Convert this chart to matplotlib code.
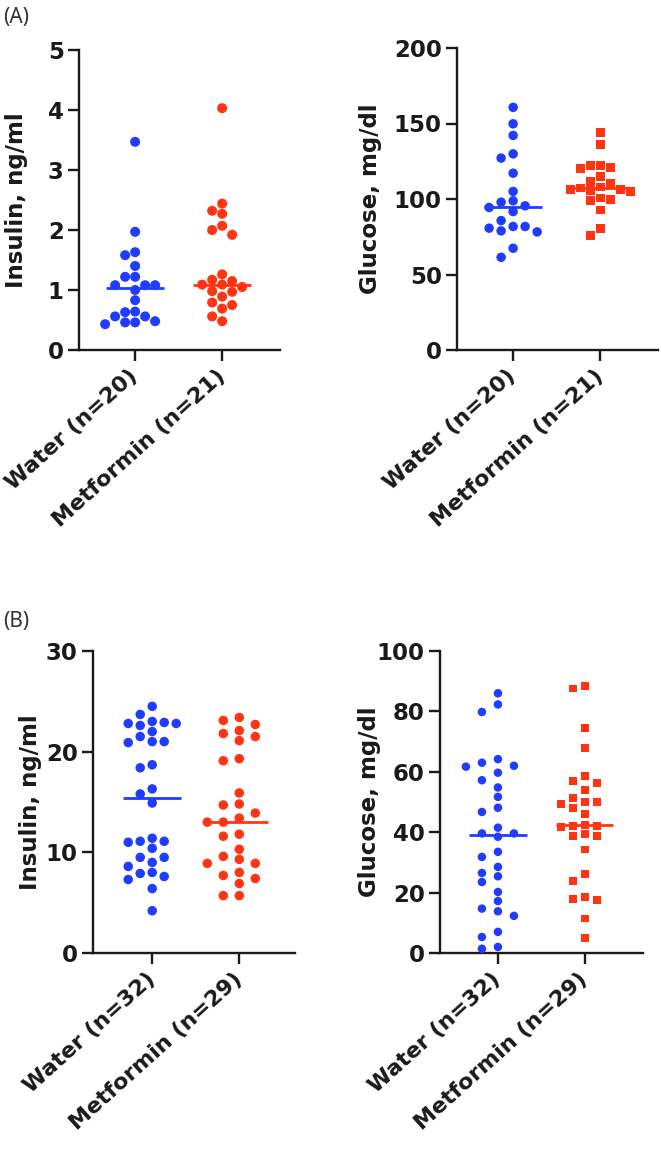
import matplotlib
matplotlib.use("Agg")
import matplotlib.pyplot as plt
import numpy as np

plt.rcParams['font.family'] = ['DejaVu Sans']

# ---------------- data ----------------
groups_a = ["Water (n=20)", "Metformin (n=21)"]
groups_b = ["Water (n=32)", "Metformin (n=29)"]

a_ins_water = [3.47, 1.97, 1.63, 1.58, 1.40, 1.22, 1.22, 1.08, 1.08, 1.08, 1.00,
               0.83, 0.64, 0.63, 0.56, 0.56, 0.48, 0.46, 0.46, 0.43]
a_ins_met = [4.03, 2.44, 2.32, 2.27, 2.07, 2.00, 1.92, 1.26, 1.17, 1.15, 1.09,
             1.09, 1.05, 0.98, 0.97, 0.89, 0.79, 0.75, 0.69, 0.56, 0.48]

a_glu_water = [160.7, 149.8, 142.1, 129.9, 127.1, 117.1, 105.0, 98.8, 97.9, 95.5,
               94.4, 91.7, 85.7, 81.8, 81.8, 80.7, 78.9, 78.2, 67.4, 61.4]
a_glu_met = [144.1, 135.9, 122.0, 122.0, 121.1, 120.2, 114.9, 111.6, 110.5, 108.0,
             107.2, 106.1, 106.1, 105.4, 105.0, 100.6, 99.5, 99.0, 92.8, 80.7, 75.6]

b_ins_water = [24.5, 23.7, 23.0, 22.9, 22.8, 22.8, 22.6, 22.0, 21.5, 21.0, 21.0,
               20.9, 18.7, 18.4, 16.3, 15.8, 14.9, 11.4, 11.1, 11.1, 11.0, 10.4,
               9.5, 9.5, 9.0, 8.6, 8.0, 7.9, 7.6, 7.3, 6.4, 4.2]
b_ins_met = [23.4, 23.1, 22.7, 22.1, 21.8, 21.5, 21.1, 19.3, 19.1, 15.9, 14.8,
             14.7, 13.9, 13.4, 13.0, 13.0, 11.8, 11.6, 10.3, 9.6, 9.3, 8.9, 8.9,
             8.0, 7.7, 7.4, 6.9, 5.7, 5.7]

b_glu_water = [86.0, 82.3, 79.8, 64.2, 63.0, 62.0, 61.7, 59.7, 57.2, 54.8, 51.7,
               48.1, 46.7, 41.5, 39.6, 39.6, 38.5, 33.5, 31.8, 28.5, 26.5, 25.4,
               23.5, 20.2, 17.2, 14.7, 13.8, 12.3, 7.0, 5.3, 2.0, 1.4]
b_glu_met = [88.4, 87.6, 74.4, 68.0, 58.7, 56.9, 56.3, 53.9, 51.2, 49.9, 49.9,
             49.3, 47.9, 46.0, 42.3, 42.0, 42.0, 41.8, 39.3, 38.7, 38.7, 34.3,
             26.1, 23.8, 18.6, 18.0, 17.5, 11.4, 5.0]

BLUE = "#1f3cff"
RED = "#ff3412"
INK = "#1a1a1a"

W, H = 661, 1162
fig = plt.figure(figsize=(W / 100, H / 100), dpi=100)


def add_ax(left, top, right, bottom):
    return fig.add_axes([left / W, 1 - bottom / H, (right - left) / W, (bottom - top) / H])


def swarm_x(ax, xc, vals, diam_px, step_px):
    vals = np.asarray(vals, float)
    ypx = ax.transData.transform(np.column_stack([np.full(len(vals), xc), vals]))[:, 1]
    cands = sorted([k * step_px / 2 for k in range(-14, 15)], key=lambda o: (abs(o), o))
    placed = []
    offs = np.zeros(len(vals))
    for i in np.argsort(-vals):
        y = ypx[i]
        chosen = 0.0
        for o in cands:
            if all(abs(o - px) >= step_px * 0.99 or abs(y - py) >= diam_px * 0.98
                   for px, py in placed):
                chosen = o
                break
        placed.append((chosen, y))
        offs[i] = chosen
    x0 = ax.transData.transform((xc, 0))[0]
    return ax.transData.inverted().transform(np.column_stack([x0 + offs, ypx]))[:, 0]


def panel(ax, water, met, labels, ylim, yticks, ylabel, xlim, met_marker,
          diam_px, steps, label_x):
    ax.set_xlim(*xlim)
    ax.set_ylim(*ylim)
    for xc, vals, col, mk, st in [(0, water, BLUE, 'o', steps[0]),
                                  (1, met, RED, met_marker, steps[1])]:
        d = diam_px if mk == 'o' else diam_px * 0.92
        xs = swarm_x(ax, xc, vals, diam_px, st)
        ax.scatter(xs, vals, s=(d * 0.72) ** 2, marker=mk, color=col,
                   edgecolors='none', clip_on=False, zorder=3)
        med = np.median(vals)
        ax.plot([xc - 0.33, xc + 0.33], [med, med], color=col, lw=2, zorder=4,
                solid_capstyle='butt')
    for s in ['top', 'right']:
        ax.spines[s].set_visible(False)
    for s in ['left', 'bottom']:
        ax.spines[s].set_linewidth(1.7)
        ax.spines[s].set_color(INK)
    ax.set_yticks(yticks)
    ax.set_yticklabels([str(t) for t in yticks], fontsize=16.5, fontweight='bold',
                       color=INK)
    ax.set_xticks([0, 1])
    ax.set_xticklabels(labels, fontsize=16, fontweight='bold', rotation=42,
                       ha='right', va='center', rotation_mode='anchor', color=INK)
    ax.tick_params(axis='y', length=8, width=1.7, color=INK, pad=3)
    ax.tick_params(axis='x', length=8, width=1.7, color=INK, pad=9)
    ax.set_ylabel(ylabel, fontsize=16.5, fontweight='bold', color=INK)
    ax.yaxis.set_label_coords(label_x, 0.5)


ax1 = add_ax(79, 50, 280, 350)
panel(ax1, a_ins_water, a_ins_met, groups_a, (0, 5), [0, 1, 2, 3, 4, 5],
      "Insulin, ng/ml", (-0.645, 1.665), 'o', 10, (10, 10), -0.254)

ax2 = add_ax(457, 48, 658, 350)
panel(ax2, a_glu_water, a_glu_met, groups_a, (0, 200), [0, 50, 100, 150, 200],
      "Glucose, mg/dl", (-0.645, 1.665), 's', 9.5, (12, 10), -0.373)

ax3 = add_ax(93, 651, 295, 953)
panel(ax3, b_ins_water, b_ins_met, groups_b, (0, 30), [0, 10, 20, 30],
      "Insulin, ng/ml", (-0.68, 1.64), 'o', 9.5, (12, 16), -0.25)

ax4 = add_ax(440, 651, 643, 953)
panel(ax4, b_glu_water, b_glu_met, groups_b, (0, 100), [0, 20, 40, 60, 80, 100],
      "Glucose, mg/dl", (-0.667, 1.67), 's', 8.5, (16, 12), -0.29)

fig.text(3 / W, 1 - 18 / H, "(A)", fontsize=15, family=['Noto Sans', 'DejaVu Sans'],
         color='#333333', va='center', ha='left')
fig.text(3 / W, 1 - 622 / H, "(B)", fontsize=15, family=['Noto Sans', 'DejaVu Sans'],
         color='#333333', va='center', ha='left')

fig.savefig("out.png", dpi=100, facecolor='white')
